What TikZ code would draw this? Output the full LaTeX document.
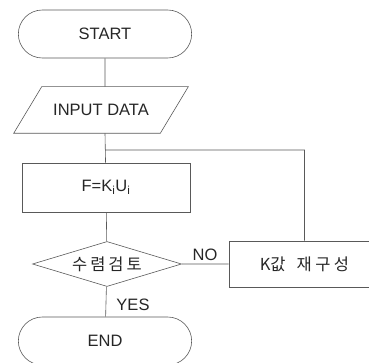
\documentclass[tikz,border=0pt]{standalone}
\usepackage{fontspec}
\setmainfont{Liberation Sans}
\newfontfamily\kr{Noto Sans CJK KR}
\newfontfamily\krwide[LetterSpace=18]{Noto Sans CJK KR}
\usetikzlibrary{shapes.geometric,shapes.misc}
\tikzset{
  flow/.style={draw=black!65,line width=0.6pt,text=black!85,font=\fontsize{16.5}{18}\selectfont},
  term/.style={flow,rounded rectangle,minimum width=180pt,minimum height=48pt},
  io/.style={flow,draw=none,rectangle,minimum width=174pt,minimum height=46pt,inner sep=0pt},
  proc/.style={flow,rectangle,minimum width=168pt,minimum height=49pt},
  test/.style={flow,diamond,aspect=3.3,inner sep=0pt,minimum width=149pt,minimum height=45pt},
  tag/.style={text=black!85,font=\fontsize{16.5}{18}\selectfont}
}
\begin{document}
\begin{tikzpicture}[x=1pt,y=-1pt]
\useasboundingbox (0,0) rectangle (369,363);
%boxes
\node[term] (start) at (105,34) {START};
\node[io] (input) at (101,110) {INPUT DATA};
\draw[draw=black!65,line width=0.6pt] ([xshift=28pt]input.north west)--(input.north east)
  --([xshift=-28pt]input.south east)--(input.south west)--cycle;
\node[proc] (force) at (106,187.5) {F=K\textsubscript{i}U\textsubscript{i}};
\node[test] (check) at (107,264) {\krwide 수렴검토};
\node[proc,minimum width=151pt,minimum height=46pt] (update) at (304.5,264) {\kr K값\hspace{11pt}재\kern3.5pt 구\kern3.5pt 성};
\node[term] (end) at (105,341) {END};
\coordinate (loop) at (105,150);
%lines
\draw[draw=black!65,line width=0.6pt]
  (start)--(start|-input.north) (input.south-|loop)--(force) (force)--(check)
  (check.east)--(update.west) (update.north)|-(loop) (check)--(end);
\node[tag] (no) at (205,255) {NO};
\node[tag] (yes) at (133,305) {YES};
\end{tikzpicture}
\end{document}
